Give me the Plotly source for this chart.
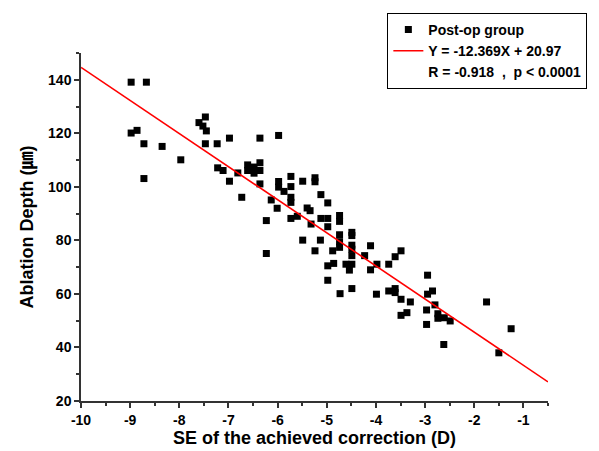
import plotly.graph_objects as go

# Post-op group data (SE of achieved correction [D], ablation depth [um])
se_values = [-8.98, -8.67, -8.98, -8.86, -8.72, -8.35, -8.72, -7.97, -7.47, -7.60,
             -7.52, -7.45, -7.47, -7.23, -6.98, -6.36, -5.98, -7.22, -7.11, -6.98,
             -6.81, -6.61, -6.61, -6.48, -6.48, -6.36, -6.36, -6.36, -6.73, -5.98,
             -5.98, -5.87, -6.13, -6.01, -6.23, -6.23, -5.73, -5.73, -5.49, -5.24,
             -5.24, -5.73, -5.73, -5.40, -5.34, -5.12, -4.98, -5.73, -5.60, -5.12,
             -4.98, -4.74, -4.74, -5.32, -4.98, -4.74, -4.49, -4.49, -5.49, -5.13,
             -4.74, -4.74, -4.49, -4.49, -5.24, -4.88, -4.11, -4.49, -4.23, -4.98,
             -4.86, -4.61, -4.49, -3.98, -4.54, -4.98, -4.49, -4.73, -3.61, -3.49,
             -4.11, -3.74, -2.95, -3.99, -3.74, -3.61, -3.61, -3.49, -3.30, -2.85,
             -2.95, -2.80, -3.37, -3.49, -2.97, -2.74, -2.74, -2.61, -2.49, -2.97,
             -1.75, -1.25, -1.50, -2.62]
depth_values = [139.1, 139.1, 120.1, 121.1, 116.1, 115.1, 103.1, 110.1, 126.1, 124.0,
                122.7, 120.9, 116.1, 116.1, 118.2, 118.2, 119.2, 107.1, 106.1, 102.1,
                105.2, 108.2, 106.1, 107.4, 105.1, 109.0, 106.1, 101.1, 96.1, 102.0,
                99.9, 98.3, 95.1, 92.0, 87.4, 75.1, 103.9, 100.1, 102.1, 103.4,
                101.9, 96.1, 94.2, 92.1, 91.1, 97.1, 94.0, 88.2, 89.0, 88.2,
                88.2, 89.3, 87.1, 86.1, 85.1, 82.1, 83.0, 81.8, 80.1, 80.1,
                79.5, 77.4, 78.2, 76.7, 76.1, 76.1, 78.0, 74.3, 74.3, 70.5,
                71.4, 71.1, 71.1, 71.1, 68.9, 65.1, 62.0, 60.1, 73.9, 76.1,
                69.0, 71.1, 67.0, 59.9, 61.1, 62.0, 60.5, 58.0, 57.0, 61.1,
                59.9, 55.9, 53.0, 52.0, 54.0, 52.6, 50.9, 51.1, 49.9, 48.6,
                57.0, 47.0, 38.0, 41.1]

# Linear fit shown in the legend
fit_slope = -12.369
fit_intercept = 20.97
fit_x = [-10.0, -0.5]
fit_y = [fit_slope * x + fit_intercept for x in fit_x]

legend_names = ["Post-op group", "Y = -12.369X + 20.97", "R = -0.918  ,  p < 0.0001"]

x_range = [-10.0, -0.5]
y_range = [20, 150]
x_tickvals = [-10, -9, -8, -7, -6, -5, -4, -3, -2, -1]
y_tickvals = [20, 40, 60, 80, 100, 120, 140]

FONT = "Arial, Liberation Sans, Noto Sans CJK JP, sans-serif"

fig = go.Figure()
fig.add_trace(go.Scatter(
    x=se_values, y=depth_values, mode="markers", name=legend_names[0],
    marker=dict(symbol="square", size=7, color="black", line=dict(width=0)),
    cliponaxis=False,
))
fig.add_trace(go.Scatter(
    x=fit_x, y=fit_y, mode="lines", name=legend_names[1],
    line=dict(color="#ff0000", width=1.6),
))
fig.add_trace(go.Scatter(
    x=[None], y=[None], mode="markers", name=legend_names[2],
    marker=dict(color="rgba(0,0,0,0)", size=1),
))

axis_common = dict(
    showline=True, linecolor="#333333", linewidth=1.5,
    ticks="outside", ticklen=5, tickwidth=1.5, tickcolor="#333333",
    showgrid=False, zeroline=False, mirror=False,
    tickfont=dict(family=FONT, size=14, color="black", weight="bold"),
)

fig.update_xaxes(
    range=x_range, tickvals=x_tickvals, ticktext=[str(v) for v in x_tickvals],
    minor=dict(ticks="outside", ticklen=3, tickwidth=1.5, tickcolor="#333333", dtick=0.5, tick0=-10),
    title=dict(text="SE of the achieved correction (D)", standoff=5,
               font=dict(family=FONT, size=18, color="black", weight="bold")),
    **axis_common,
)
fig.update_yaxes(
    range=y_range, tickvals=y_tickvals, ticktext=[str(v) for v in y_tickvals],
    minor=dict(ticks="outside", ticklen=3, tickwidth=1.5, tickcolor="#333333", dtick=10, tick0=20),
    title=dict(text="Ablation Depth (㎛)", standoff=10,
               font=dict(family=FONT, size=18, color="black", weight="bold")),
    **axis_common,
)

fig.update_layout(
    width=599, height=451,
    margin=dict(l=73, r=59, t=45, b=58, autoexpand=False),
    paper_bgcolor="white", plot_bgcolor="white",
    showlegend=True,
    legend=dict(
        x=0.656, y=1.115, xanchor="left", yanchor="top",
        bgcolor="white", bordercolor="black", borderwidth=1,
        font=dict(family=FONT, size=14, color="black", weight="bold"),
        tracegroupgap=0, itemwidth=30,
    ),
)

fig.write_html("out.html")
